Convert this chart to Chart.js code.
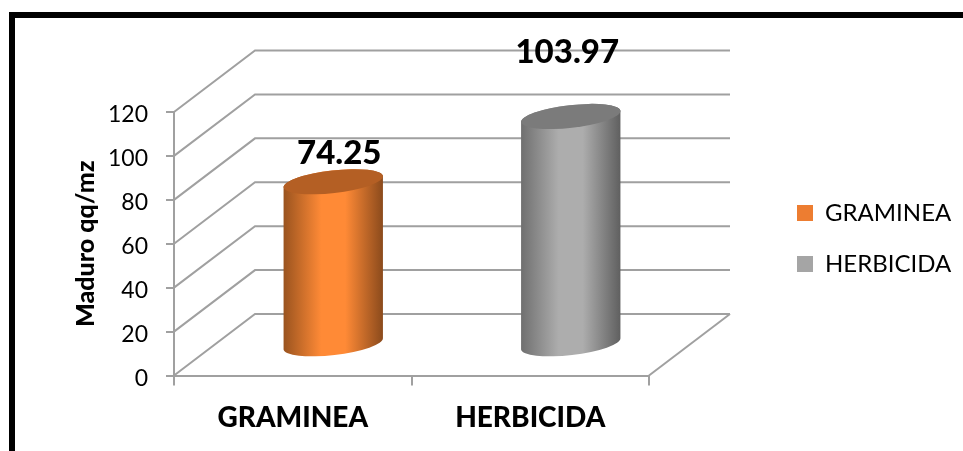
<!DOCTYPE html>
<html>
<head>
<meta charset="utf-8">
<title>Maduro qq/mz</title>
<script src="https://cdn.jsdelivr.net/npm/chart.js@4/dist/chart.umd.js"></script>
<style>
  html, body { margin: 0; padding: 0; background: #fff; overflow: hidden; }
  canvas { display: block; }
</style>
</head>
<body>
<canvas id="myChart" width="963" height="451"></canvas>
<script>
const categories = ['GRAMINEA', 'HERBICIDA'];
const graminea = [74.25, null];
const herbicida = [null, 103.97];
const yTicks = [0, 20, 40, 60, 80, 100, 120];

const FONT = 'Lato, Carlito, Calibri, sans-serif';
const GRID = '#a0a0a0';

// depth of the fake 3D box, wall is pushed back by this much
const DEPTH_X = 81;
const DEPTH_Y = 61.5;

// each cylinder: side shading and lid colour
const looks = [
    { edgeL: '#99531f', mid: '#ff8a36', edgeR: '#8a4a1c', lid: '#b45f24' },
    { edgeL: '#6f6f6f', mid: '#adadad', edgeR: '#5f5f5f', lid: '#7b7b7b' }
];
// value labels sit off to the side of the bars
const labelShift = [[46.5, -59.5], [37, -94.5]];

function drawCylinder(ctx, el, look) {
    const cx = el.x + DEPTH_X / 2;
    const top = el.y - DEPTH_Y / 2;
    const bottom = el.base - DEPTH_Y / 2;
    const rx = el.width / 2;
    const ry = 11.3;
    const rot = -6.5 * Math.PI / 180;

    const g = ctx.createLinearGradient(cx - rx, 0, cx + rx, 0);
    g.addColorStop(0, look.edgeL);
    g.addColorStop(0.38, look.mid);
    g.addColorStop(0.62, look.mid);
    g.addColorStop(1, look.edgeR);

    ctx.beginPath();
    ctx.ellipse(cx, bottom, rx, ry, rot, 0, Math.PI);
    ctx.ellipse(cx, top, rx, ry, rot, Math.PI, Math.PI * 2);
    ctx.closePath();
    ctx.fillStyle = g;
    ctx.fill();

    ctx.beginPath();
    ctx.ellipse(cx, top, rx, ry, rot, 0, Math.PI * 2);
    ctx.fillStyle = look.lid;
    ctx.fill();
}

const box3d = {
    id: 'box3d',
    beforeDraw(chart) {
        // black frame, only left and top are in view
        const c = chart.ctx;
        c.save();
        c.fillStyle = '#000';
        c.fillRect(9, 12, chart.width - 9, 6);
        c.fillRect(9, 12, 6, chart.height - 12);
        c.restore();
    },
    afterLayout(chart) {
        // legend is further right than the layout would put it
        // (it clips to its own box, so the whole box has to move)
        const lg = chart.legend;
        lg.left = 770;
        lg.right = chart.width;
        lg.top = 174;
        lg.bottom = chart.height;
        lg.width = lg.right - lg.left;
        lg.height = lg.bottom - lg.top;
    },
    beforeDatasetsDraw(chart) {
        const c = chart.ctx;
        const area = chart.chartArea;
        const y = chart.scales.y;
        c.save();
        c.strokeStyle = GRID;
        c.lineWidth = 2;
        // side wall and back wall lines
        yTicks.forEach(function (v) {
            const py = y.getPixelForValue(v);
            c.beginPath();
            c.moveTo(area.left, py);
            c.lineTo(area.left + DEPTH_X, py - DEPTH_Y);
            c.lineTo(area.right + DEPTH_X, py - DEPTH_Y);
            c.stroke();
        });
        // floor, right edge
        c.beginPath();
        c.moveTo(area.right, area.bottom);
        c.lineTo(area.right + DEPTH_X, area.bottom - DEPTH_Y);
        c.stroke();
        c.restore();
    },
    beforeDatasetDraw(chart, args) {
        const c = chart.ctx;
        const i = args.index;
        args.meta.data.forEach(function (el, n) {
            const v = chart.data.datasets[i].data[n];
            if (v === null) return;
            c.save();
            drawCylinder(c, el, looks[i]);
            c.restore();
        });
        return false;
    },
    afterDatasetsDraw(chart) {
        const c = chart.ctx;
        c.save();
        c.font = '900 33px ' + FONT;
        c.fillStyle = '#000';
        c.textAlign = 'center';
        c.textBaseline = 'middle';
        chart.data.datasets.forEach(function (ds, i) {
            chart.getDatasetMeta(i).data.forEach(function (el, n) {
                if (ds.data[n] === null) return;
                c.fillText(ds.data[n].toFixed(2), el.x + labelShift[i][0], el.y + labelShift[i][1]);
            });
        });
        c.restore();
    }
};

const ctx = document.getElementById('myChart').getContext('2d');

const myChart = new Chart(ctx, {
    type: 'bar',
    plugins: [box3d],
    data: {
        labels: categories,
        datasets: [
            { label: 'GRAMINEA', data: graminea, backgroundColor: '#ed7d31', barThickness: 100 },
            { label: 'HERBICIDA', data: herbicida, backgroundColor: '#a5a5a5', barThickness: 100 }
        ]
    },
    options: {
        responsive: false,
        animation: false,
        layout: { padding: { top: 112, right: 154, bottom: 0, left: 0 } },
        plugins: {
            tooltip: { enabled: false },
            legend: {
                position: 'right',
                align: 'start',
                maxWidth: 160,
                labels: {
                    boxWidth: 16,
                    boxHeight: 16,
                    padding: 27,
                    color: '#000',
                    font: { family: FONT, size: 24 }
                }
            }
        },
        scales: {
            x: {
                stacked: true,
                afterFit: function (s) { s.height = 75.5; },
                grid: { drawOnChartArea: false, color: GRID, tickLength: 10, lineWidth: 2 },
                border: { color: GRID, width: 2 },
                ticks: {
                    color: '#000',
                    maxRotation: 0,
                    padding: 16,
                    font: { family: FONT, size: 28, weight: '900' }
                }
            },
            y: {
                stacked: true,
                min: 0,
                max: 120,
                afterFit: function (s) { s.width = 174; },
                grid: { drawOnChartArea: false, color: GRID, tickLength: 8, lineWidth: 2 },
                border: { color: GRID, width: 2 },
                ticks: {
                    stepSize: 20,
                    color: '#000',
                    padding: 18,
                    labelOffset: 3,
                    font: { family: FONT, size: 23 }
                },
                title: {
                    display: true,
                    text: 'Maduro qq/mz',
                    color: '#000',
                    padding: { top: 71, bottom: 0 },
                    font: { family: FONT, size: 25, weight: '900' }
                }
            }
        }
    }
});
</script>
</body>
</html>
